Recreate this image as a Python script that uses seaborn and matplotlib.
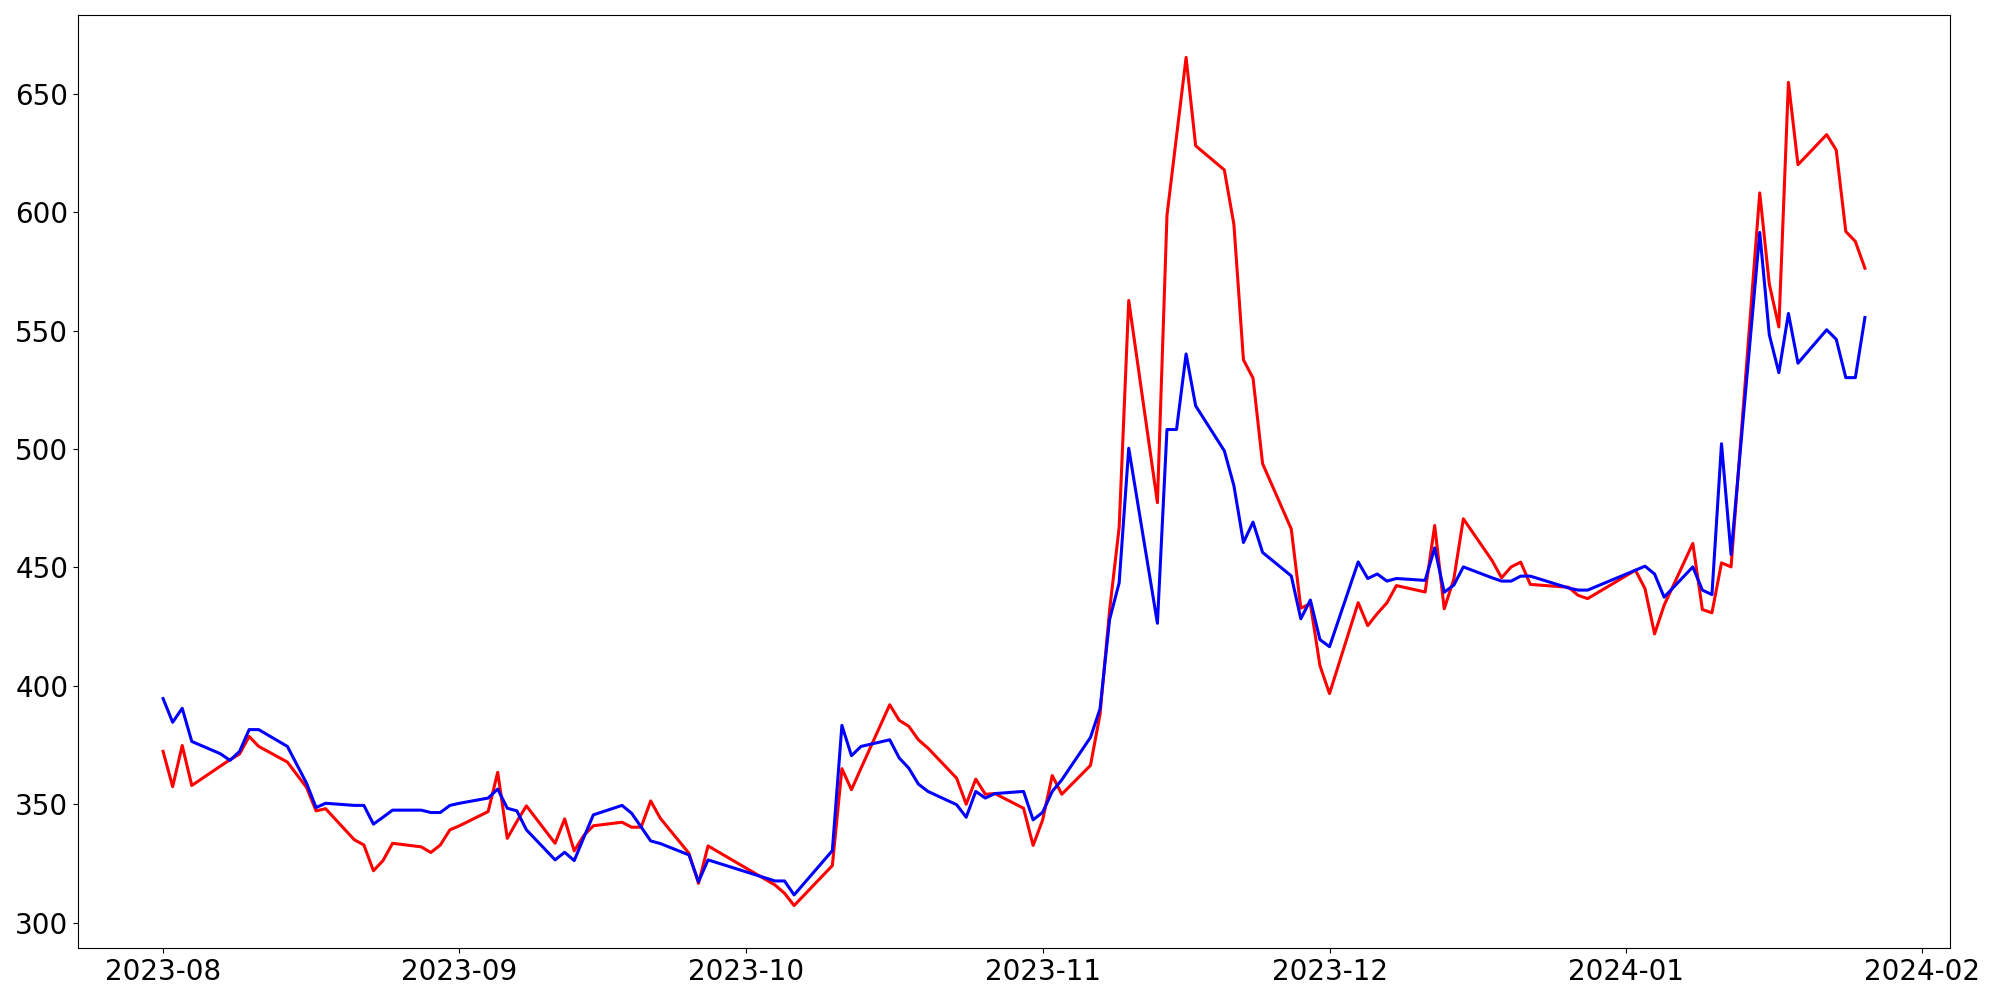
import pandas as pd
import matplotlib
matplotlib.use("Agg")
import matplotlib.pyplot as plt
import seaborn as sns

# Trading dates (gaps as seen in the chart)
dates = pd.to_datetime([
    "2023-08-01", "2023-08-02", "2023-08-03", "2023-08-04", "2023-08-07", "2023-08-08",
    "2023-08-09", "2023-08-10", "2023-08-11", "2023-08-14", "2023-08-16", "2023-08-17",
    "2023-08-18", "2023-08-21", "2023-08-22", "2023-08-23", "2023-08-24", "2023-08-25",
    "2023-08-28", "2023-08-29", "2023-08-30", "2023-08-31",
    "2023-09-01", "2023-09-04", "2023-09-05", "2023-09-06", "2023-09-07", "2023-09-08",
    "2023-09-11", "2023-09-12", "2023-09-13", "2023-09-14", "2023-09-15", "2023-09-18",
    "2023-09-19", "2023-09-20", "2023-09-21", "2023-09-22", "2023-09-25", "2023-09-26",
    "2023-09-27",
    "2023-10-04", "2023-10-05", "2023-10-06", "2023-10-10", "2023-10-11", "2023-10-12",
    "2023-10-13", "2023-10-16", "2023-10-17", "2023-10-18", "2023-10-19", "2023-10-20",
    "2023-10-23", "2023-10-24", "2023-10-25", "2023-10-26", "2023-10-27", "2023-10-30",
    "2023-10-31",
    "2023-11-01", "2023-11-02", "2023-11-03", "2023-11-06", "2023-11-07", "2023-11-08",
    "2023-11-09", "2023-11-10", "2023-11-13", "2023-11-14", "2023-11-15", "2023-11-16",
    "2023-11-17", "2023-11-20", "2023-11-21", "2023-11-22", "2023-11-23", "2023-11-24",
    "2023-11-27", "2023-11-28", "2023-11-29", "2023-11-30",
    "2023-12-01", "2023-12-04", "2023-12-05", "2023-12-06", "2023-12-07", "2023-12-08",
    "2023-12-11", "2023-12-12", "2023-12-13", "2023-12-14", "2023-12-15", "2023-12-18",
    "2023-12-19", "2023-12-20", "2023-12-21", "2023-12-22", "2023-12-26", "2023-12-27",
    "2023-12-28",
    "2024-01-02", "2024-01-03", "2024-01-04", "2024-01-05", "2024-01-08", "2024-01-09",
    "2024-01-10", "2024-01-11", "2024-01-12", "2024-01-15", "2024-01-16", "2024-01-17",
    "2024-01-18", "2024-01-19", "2024-01-22", "2024-01-23", "2024-01-24", "2024-01-25",
    "2024-01-26",
])

red_values = [
    372.3, 357.4, 374.8, 357.9, 366.1, 368.8, 371.2, 378.6, 374.4, 367.8, 357.1, 347.2,
    348.1, 335.0, 332.8, 321.9, 326.2, 333.5, 332.0, 329.6, 332.8, 339.2,
    340.9, 346.9, 363.5, 335.6, 342.7, 349.3, 333.5, 343.8, 330.3, 336.8, 340.9, 342.4,
    340.3, 340.3, 351.4, 344.1, 329.3, 316.6, 332.4,
    315.9, 312.4, 307.2, 324.1, 365.0, 356.1, 365.2, 392.0, 385.4, 382.9, 377.2, 373.7,
    361.0, 350.0, 360.6, 354.2, 354.5, 348.3, 332.6,
    343.4, 362.1, 354.2, 366.4, 388.0, 432.0, 466.9, 562.7, 477.3, 598.6, 632.0, 665.3,
    628.0, 617.8, 594.8, 537.6, 529.9, 493.8, 466.2, 432.8, 434.6, 408.5,
    396.7, 435.1, 425.4, 430.5, 435.0, 442.3, 439.6, 467.7, 432.5, 445.0, 470.5, 452.9,
    445.6, 450.2, 452.2, 442.8, 441.6, 438.2, 436.8,
    448.8, 441.0, 421.9, 434.0, 460.1, 432.2, 430.8, 451.9, 450.2, 608.1, 569.6, 551.5,
    654.8, 620.0, 632.7, 626.2, 591.8, 587.6, 576.3,
]

blue_values = [
    394.6, 384.6, 390.5, 376.5, 371.3, 368.5, 372.3, 381.5, 381.5, 374.4, 358.9, 348.6,
    350.4, 349.5, 349.5, 341.6, 344.5, 347.5, 347.5, 346.5, 346.5, 349.5,
    350.4, 352.6, 356.4, 348.3, 347.2, 339.2, 326.5, 329.7, 326.2, 335.9, 345.5, 349.5,
    346.2, 340.4, 334.5, 333.4, 328.6, 317.3, 326.5,
    317.6, 317.6, 311.7, 330.4, 383.3, 370.5, 374.4, 377.2, 369.5, 365.2, 358.5, 355.4,
    349.8, 344.5, 355.4, 352.6, 354.5, 355.4, 343.4,
    346.6, 355.4, 360.3, 378.2, 390.3, 428.0, 443.5, 500.3, 426.4, 508.2, 508.2, 540.1,
    518.2, 499.2, 484.5, 460.5, 469.1, 456.3, 446.4, 428.3, 436.2, 419.5,
    416.5, 452.3, 445.3, 447.2, 444.2, 445.3, 444.5, 458.2, 439.5, 442.5, 450.2, 445.6,
    444.2, 444.2, 446.3, 446.3, 441.3, 440.4, 440.4,
    448.8, 450.5, 447.2, 437.4, 450.2, 440.4, 438.5, 502.2, 455.4, 591.4, 548.2, 532.2,
    557.2, 536.2, 550.3, 546.3, 530.1, 530.1, 555.5,
]

fig, ax = plt.subplots(figsize=(20, 10), dpi=100)

sns.lineplot(x=dates, y=red_values, color="red", linewidth=2.2, ax=ax)
sns.lineplot(x=dates, y=blue_values, color="blue", linewidth=2.2, ax=ax)

ax.tick_params(labelsize=20)
ax.set_xlabel("")
ax.set_ylabel("")

fig.subplots_adjust(left=0.039, right=0.975, top=0.985, bottom=0.052)
fig.savefig("out.png")
